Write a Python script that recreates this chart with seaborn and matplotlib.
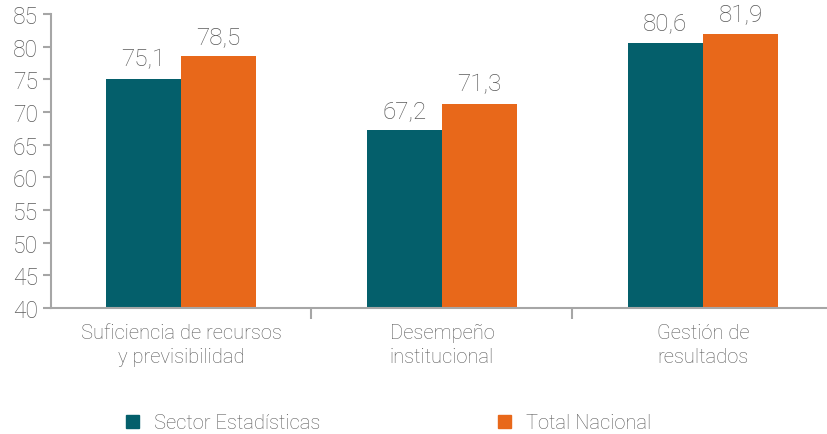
import pandas as pd
import seaborn as sns
import matplotlib.pyplot as plt
from matplotlib.patches import Patch

categories = ["Suficiencia de recursos\ny previsibilidad", "Desempeño\ninstitucional", "Gestión de\nresultados"]
series = ["Sector Estadísticas", "Total Nacional"]
sector_vals = [75.1, 67.2, 80.6]
nacional_vals = [78.5, 71.3, 81.9]
yticks = [40, 45, 50, 55, 60, 65, 70, 75, 80, 85]

colors = {"Sector Estadísticas": "#045F6B", "Total Nacional": "#E8681A"}
GRAY = "#a6a6a6"
TXT = "#5a5a5a"

df = pd.DataFrame({
    "cat": categories * 2,
    "serie": [series[0]] * 3 + [series[1]] * 3,
    "val": sector_vals + nacional_vals,
})

sns.set_style("white")
plt.rcParams['font.family'] = ['Roboto', 'DejaVu Sans']
plt.rcParams['font.weight'] = 'light'

fig = plt.figure(figsize=(8.28, 4.35), dpi=100)
ax = fig.add_axes([0.061, 0.2897, 0.939, 0.6758])

sns.barplot(data=df, x="cat", y="val", hue="serie", palette=colors,
            width=0.575, gap=0, saturation=1, legend=False, linewidth=0, ax=ax)

for cont in ax.containers:
    labels = [f"{v:.1f}".replace(".", ",") for v in cont.datavalues]
    ax.bar_label(cont, labels=labels, padding=6, fontsize=17.5, color=TXT)

ax.set_ylim(40, 85)
ax.set_xlim(-0.5, 2.479)
ax.set_yticks(yticks)
ax.set_xlabel("")
ax.set_ylabel("")

for s in ["top", "right"]:
    ax.spines[s].set_visible(False)
for s in ["left", "bottom"]:
    ax.spines[s].set_color(GRAY)
    ax.spines[s].set_linewidth(1.5)

ax.tick_params(axis="y", which="major", left=True, length=6, width=1.5,
               color=GRAY, labelsize=16.5, labelcolor=TXT, pad=3)
ax.set_xticks([0, 1, 2])
ax.set_xticklabels(categories, linespacing=1.35)
ax.tick_params(axis="x", which="major", bottom=False, labelsize=14.5,
               labelcolor=TXT, pad=7)
ax.set_xticks([0.5, 1.5], minor=True)
ax.tick_params(axis="x", which="minor", bottom=True, length=8, width=1.5,
               color=GRAY)

handles = [Patch(color=colors[s], label=s) for s in series]
leg = fig.legend(handles=handles, loc="lower left", bbox_to_anchor=(0.13, -0.038),
                 ncol=2, frameon=False, fontsize=14.5, handlelength=0.65,
                 handleheight=0.65, handletextpad=0.75, columnspacing=8.8)
for t in leg.get_texts():
    t.set_color(TXT)

fig.savefig("out.png", dpi=100)
